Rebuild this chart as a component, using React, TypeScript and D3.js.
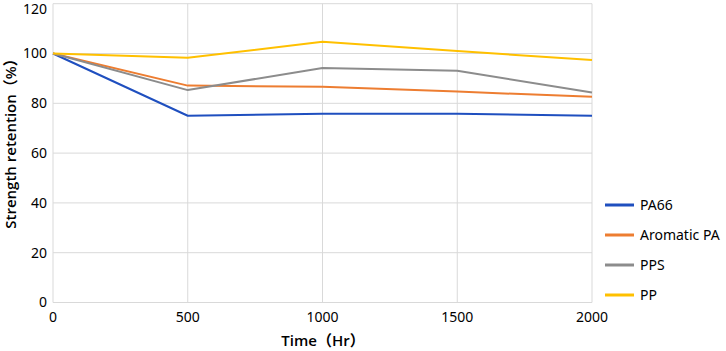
import React from "react";
import * as d3 from "d3";

const hours = [0, 500, 1000, 1500, 2000];
const pa66 = [100, 75.0, 75.8, 75.8, 75.0];
const aromaticPA = [100, 87.1, 86.6, 84.7, 82.6];
const pps = [100, 85.3, 94.2, 93.1, 84.3];
const pp = [100, 98.3, 104.7, 101.0, 97.4];
const seriesNames = ["PA66", "Aromatic PA", "PPS", "PP"];
const seriesColors = ["#1f4fbf", "#ed7d31", "#8c8c8c", "#ffc000"];
const yTicks = [0, 20, 40, 60, 80, 100, 120];
const xTicks = [0, 500, 1000, 1500, 2000];

const W = 726, H = 351;
const font = "'Noto Sans', 'Noto Sans CJK JP', sans-serif";
const titleFont = "'Open Sans', 'Noto Sans CJK JP', sans-serif";

export default function App() {
  const x = d3.scaleLinear().domain([0, 2000]).range([53, 592]);
  const y = d3.scaleLinear().domain([0, 120]).range([302.5, 3.7]);
  const all = [pa66, aromaticPA, pps, pp];
  const line = d3.line<number>().x((_, i) => x(hours[i])).y((d) => y(d));
  return (
    <svg width={W} height={H} style={{ position: "absolute", left: 0, top: 0 }} fontFamily={font}>
      <rect width={W} height={H} fill="#fff" />
      {yTicks.map((t) => (
        <g key={"y" + t}>
          <line x1={x(0)} x2={x(2000)} y1={y(t)} y2={y(t)} stroke="#d9d9d9" strokeWidth={1} />
          <text x={47} y={Math.max(y(t), 9)} dy="0.35em" textAnchor="end" fontSize={14} fill="#000">{t}</text>
        </g>
      ))}
      {xTicks.map((t) => (
        <g key={"x" + t}>
          <line x1={x(t)} x2={x(t)} y1={y(0)} y2={y(120)} stroke="#d9d9d9" strokeWidth={1} />
          <text x={x(t)} y={317} dy="0.35em" textAnchor="middle" fontSize={14} fill="#000">{t}</text>
        </g>
      ))}
      {all.map((s, i) => (
        <path key={i} d={line(s) || ""} fill="none" stroke={seriesColors[i]} strokeWidth={2} strokeLinejoin="round" />
      ))}
      <text x={323} y={341} dy="0.35em" textAnchor="middle" fontSize={15} fontWeight={600} fontFamily={titleFont} fill="#000">Time（Hr）</text>
      <text transform={`translate(11,140) rotate(-90)`} dy="0.35em" textAnchor="middle" fontSize={15} fontWeight={600} fontFamily={titleFont} fill="#000">Strength retention（%）</text>
      {seriesNames.map((n, i) => {
        const ly = 205 + i * 30;
        return (
          <g key={n}>
            <line x1={605} x2={634} y1={ly} y2={ly} stroke={seriesColors[i]} strokeWidth={3} />
            <text x={640} y={ly} dy="0.35em" fontSize={14} fill="#000">{n}</text>
          </g>
        );
      })}
    </svg>
  );
}
